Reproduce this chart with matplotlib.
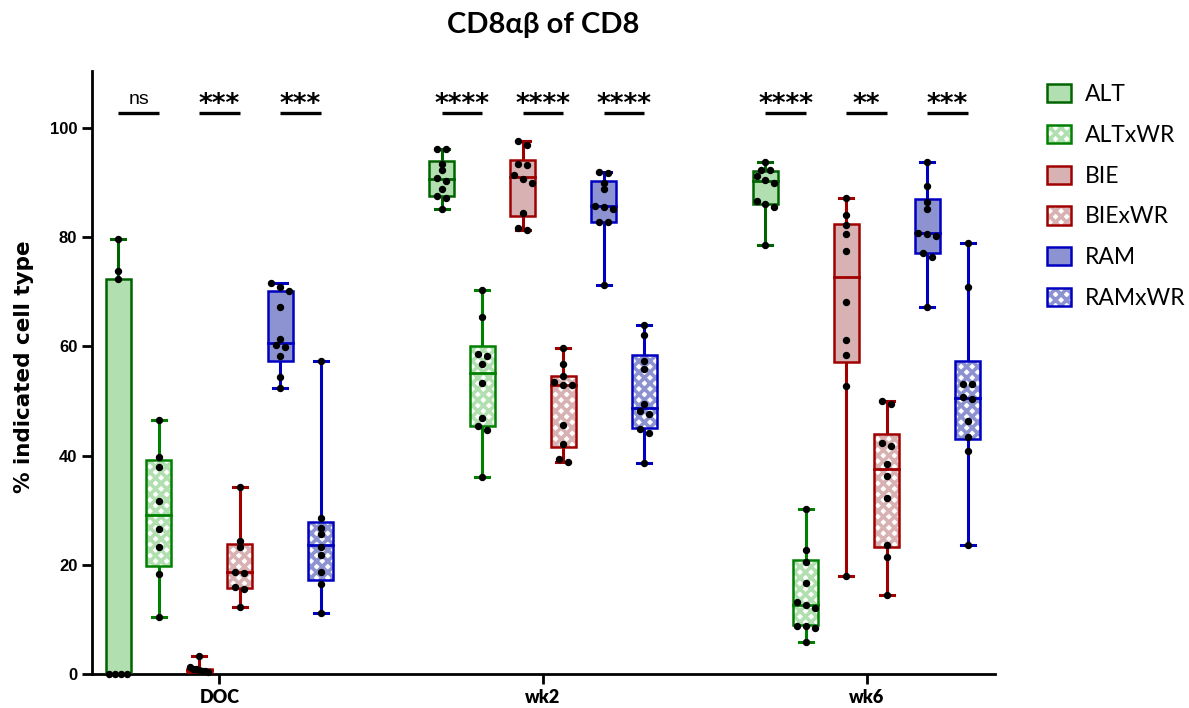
import numpy as np
import matplotlib
matplotlib.use('Agg')
import matplotlib.pyplot as plt
from matplotlib.patches import Rectangle, Patch
from matplotlib.legend_handler import HandlerTuple

plt.rcParams['hatch.linewidth'] = 2.6

groups = ['DOC', 'wk2', 'wk6']
series = ['ALT', 'ALTxWR', 'BIE', 'BIExWR', 'RAM', 'RAMxWR']

# points per group (DOC, wk2, wk6)
alt_pts = [[0, 0, 0, 0, 72.4, 73.9, 79.7],
           [96.1, 96.2, 93.5, 92.4, 90.8, 90.3, 88.9, 87.5, 87.1, 85.1],
           [93.7, 92.3, 92.4, 91.2, 90.5, 89.9, 86.7, 86.0, 85.5, 78.6]]
altwr_pts = [[46.6, 39.7, 38.0, 31.6, 26.6, 23.3, 18.4, 10.4],
             [70.3, 65.3, 58.7, 58.2, 56.8, 53.3, 46.9, 45.5, 44.7, 36.1],
             [30.2, 22.7, 20.6, 16.7, 13.2, 12.6, 12.1, 8.8, 8.5, 8.8, 5.8]]
bie_pts = [[3.3, 1.2, 1.0, 0.9, 0.8, 0.6, 0.5, 0.3],
           [97.7, 96.8, 93.5, 93.2, 91.4, 90.6, 89.9, 84.4, 81.6, 81.3],
           [87.1, 84.1, 82.3, 80.5, 77.5, 68.1, 61.2, 58.4, 52.8, 17.9]]
biewr_pts = [[34.2, 24.4, 23.3, 18.7, 18.5, 15.9, 15.6, 12.3],
             [59.8, 56.7, 54.5, 53.5, 52.9, 52.9, 45.6, 42.1, 39.3, 38.8],
             [50.0, 49.4, 42.3, 41.8, 38.5, 36.3, 32.2, 23.6, 21.4, 14.4]]
ram_pts = [[71.7, 70.9, 70.2, 67.2, 61.3, 60.3, 59.9, 58.2, 54.4, 52.3],
           [91.8, 91.9, 90.0, 88.9, 85.7, 85.5, 85.2, 82.7, 82.7, 71.2],
           [93.7, 89.4, 86.4, 85.2, 80.8, 80.5, 80.2, 77.2, 76.3, 67.2]]
ramwr_pts = [[57.4, 28.5, 26.7, 25.6, 23.3, 21.8, 18.7, 16.5, 11.1],
             [64.0, 62.1, 57.4, 55.9, 49.4, 48.1, 47.6, 44.9, 44.2, 38.6],
             [78.9, 70.8, 53.1, 53.1, 50.7, 50.3, 46.3, 43.5, 40.9, 23.6]]

# (Q1, median, Q3) as drawn
alt_q = [(0, 0, 72.4), (87.5, 90.7, 94.0), (86.1, 90.3, 92.2)]
altwr_q = [(19.8, 29.1, 39.2), (45.5, 55.1, 60.1), (9.0, 12.6, 20.9)]
bie_q = [(0.4, 0.7, 1.0), (83.9, 91.0, 94.1), (57.2, 72.8, 82.5)]
biewr_q = [(15.8, 18.6, 23.9), (41.6, 52.9, 54.6), (23.3, 37.5, 44.0)]
ram_q = [(57.4, 60.7, 70.2), (82.8, 85.7, 90.3), (77.2, 80.7, 87.0)]
ramwr_q = [(17.2, 23.7, 27.8), (45.0, 48.7, 58.4), (43.0, 50.5, 57.3)]

sig = [['ns', '***', '***'], ['****', '****', '****'], ['****', '**', '***']]

all_pts = [alt_pts, altwr_pts, bie_pts, biewr_pts, ram_pts, ramwr_pts]
all_q = [alt_q, altwr_q, bie_q, biewr_q, ram_q, ramwr_q]
edges = ['#006400', '#008000', '#a00000', '#a00000', '#0000c0', '#0000c0']
fills = ['#b1dfb0', '#b1dfb0', '#d8b2b2', '#d8b2b2', '#8d93d0', '#8d93d0']
hatched = [False, True, False, True, False, True]


def swarm(vals, thresh=0.95, step=0.028, maxw=0.055):
    vals = np.asarray(vals, dtype=float)
    order = np.argsort(-vals, kind='stable')
    offs = np.zeros(len(vals))
    clusters, cur = [], [order[0]]
    for a, b in zip(order[:-1], order[1:]):
        if vals[a] - vals[b] < thresh:
            cur.append(b)
        else:
            clusters.append(cur)
            cur = [b]
    clusters.append(cur)
    for c in clusters:
        n = len(c)
        s = step if n < 2 else min(step, maxw / (n - 1))
        for k, idx in enumerate(c):
            offs[idx] = (k - (n - 1) / 2) * s
    return offs


fig = plt.figure(figsize=(11.89, 7.08), dpi=100)
ax = fig.add_axes([92 / 1189, 34 / 708, 903 / 1189, 603.3 / 708])

bw = 0.077
cw = 0.043
gap = 0.125

for gi in range(len(groups)):
    for si in range(len(series)):
        x = gi + (si - 2.5) * gap
        pts = all_pts[si][gi]
        q1, med, q3 = all_q[si][gi]
        lo, hi = min(pts), max(pts)
        ec = edges[si]
        # whiskers + caps
        ax.plot([x, x], [q3, hi], color=ec, lw=2.2, zorder=2, solid_capstyle='butt')
        ax.plot([x, x], [lo, q1], color=ec, lw=2.2, zorder=2, solid_capstyle='butt')
        ax.plot([x - cw / 2, x + cw / 2], [hi, hi], color=ec, lw=2.2, zorder=2)
        ax.plot([x - cw / 2, x + cw / 2], [lo, lo], color=ec, lw=2.2, zorder=2)
        # box
        if hatched[si]:
            ax.add_patch(Rectangle((x - bw / 2, q1), bw, q3 - q1, facecolor='white',
                                   edgecolor=fills[si], hatch='xxx', lw=0, zorder=3))
        else:
            ax.add_patch(Rectangle((x - bw / 2, q1), bw, q3 - q1, facecolor=fills[si],
                                   lw=0, zorder=3))
        ax.add_patch(Rectangle((x - bw / 2, q1), bw, q3 - q1, facecolor='none',
                               edgecolor=ec, lw=1.8, zorder=4))
        ax.plot([x - bw / 2, x + bw / 2], [med, med], color=ec, lw=2.0, zorder=4)
        # points
        offs = swarm(pts)
        ax.plot(x + offs, pts, 'o', color='black', ms=4.3, zorder=5, clip_on=False)

    # significance bars
    for k in range(3):
        x1 = gi + (2 * k - 2.5) * gap
        x2 = gi + (2 * k + 1 - 2.5) * gap
        ax.plot([x1, x2], [102.7, 102.7], color='black', lw=2.4, solid_capstyle='butt')
        lab = sig[gi][k]
        if lab == 'ns':
            ax.text((x1 + x2) / 2, 104.4, lab, ha='center', va='baseline',
                    fontsize=14, family='Liberation Sans')
        else:
            ax.text((x1 + x2) / 2, 102.9, lab, ha='center', va='baseline',
                    fontsize=19, family='DejaVu Sans', fontweight='bold')

ax.set_xlim(-0.394, 2.397)
ax.set_ylim(0, 110.5)
ax.set_xticks(range(len(groups)))
ax.set_xticklabels(groups, family=['Lato', 'DejaVu Sans'], fontweight='heavy', fontsize=13)
ax.set_yticks([0, 20, 40, 60, 80, 100])
ax.set_yticklabels(['0', '20', '40', '60', '80', '100'], family='Liberation Sans',
                   fontweight='bold', fontsize=12)
ax.tick_params(axis='both', width=2.0, length=7, pad=3.6)
for s in ['top', 'right']:
    ax.spines[s].set_visible(False)
for s in ['left', 'bottom']:
    ax.spines[s].set_linewidth(2.0)

ax.set_ylabel('% indicated cell type', family='DejaVu Sans', fontweight='bold',
              fontsize=15.5)
ax.yaxis.set_label_coords(-0.064, 0.51)
ax.set_title('CD8αβ of CD8', family=['Lato', 'DejaVu Sans'], fontweight='bold',
             fontsize=21, pad=27)

handles = []
for si in range(len(series)):
    if hatched[si]:
        h = (Patch(facecolor='white', edgecolor=fills[si], hatch='xxx', lw=0),
             Patch(facecolor='none', edgecolor=edges[si], lw=1.8))
    else:
        h = (Patch(facecolor=fills[si], edgecolor=edges[si], lw=1.8),)
    handles.append(h)
ax.legend(handles, series, handler_map={tuple: HandlerTuple(ndivide=1)},
          loc='upper left', bbox_to_anchor=(1047 / 1189, 1 - 84 / 708),
          bbox_transform=fig.transFigure, frameon=False, borderpad=0, borderaxespad=0,
          handlelength=1.05, handleheight=0.85, handletextpad=0.6, labelspacing=0.86,
          prop={'family': ['Lato', 'DejaVu Sans'], 'size': 16.5})

fig.savefig('out.png', dpi=100)
